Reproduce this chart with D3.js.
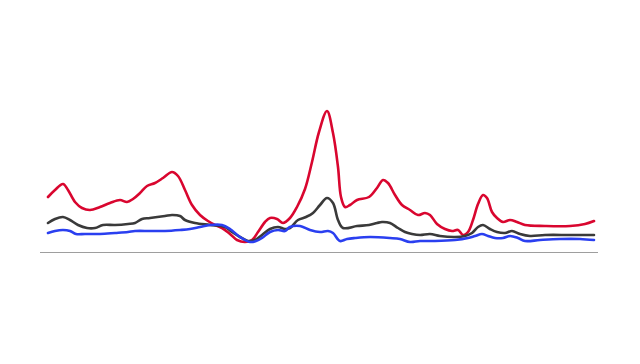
<!DOCTYPE html>
<html>
<head>
<meta charset="utf-8">
<script src="https://cdn.jsdelivr.net/npm/d3@7"></script>
<style>
  body { margin: 0; background: #fff; }
</style>
</head>
<body>
<div class="container"></div>
<script>
const w = 640;
const h = 364;

// day offsets and values
const redDays = [0, 7, 15, 20, 27, 34, 42, 52, 62, 72, 79, 85, 92, 99, 107, 115, 124, 130, 137, 144, 152, 160, 167, 174, 182, 189, 197, 204, 210, 217, 222, 229, 235, 242, 249, 257, 264, 271, 279, 285, 290, 293, 297, 302, 309, 321, 329, 335, 340, 347, 354, 362, 370, 377, 382, 389, 397, 404, 410, 415, 420, 425, 430, 435, 439, 444, 449, 455, 462, 469, 477, 497, 522, 537, 546];
const redValues = [55, 62, 68, 62, 50, 44, 42, 45, 49, 52, 50, 53, 59, 66, 69, 74, 80, 76, 62, 47, 37, 31, 27, 24, 18, 12, 10, 12, 20, 30, 34, 33, 29, 34, 45, 63, 90, 120, 141, 119, 85, 55, 45, 47, 52, 55, 64, 72, 69, 57, 47, 42, 37, 39, 37, 28, 23, 21, 22, 17, 20, 32, 48, 57, 54, 40, 34, 30, 32, 30, 27, 26, 26, 28, 31];

const grayDays = [0, 7, 15, 22, 30, 39, 47, 55, 67, 80, 87, 94, 102, 117, 124, 132, 137, 147, 162, 177, 184, 192, 200, 207, 214, 222, 230, 237, 242, 250, 258, 265, 272, 279, 285, 290, 295, 309, 321, 329, 334, 342, 350, 357, 364, 372, 382, 392, 407, 417, 424, 430, 435, 442, 449, 457, 464, 472, 482, 497, 522, 546];
const grayValues = [29, 33, 35, 32, 27, 24, 24, 27, 27, 28, 29, 33, 34, 36, 37, 36, 32, 29, 27, 25, 20, 15, 11, 12, 17, 23, 25, 23, 24, 32, 35, 39, 47, 54, 49, 32, 24, 26, 27, 29, 30, 29, 24, 20, 18, 17, 18, 16, 15, 16, 19, 25, 27, 23, 20, 19, 21, 18, 16, 17, 17, 17];

const blueDays = [0, 7, 15, 22, 28, 37, 52, 67, 80, 87, 102, 117, 132, 142, 152, 162, 174, 182, 192, 202, 208, 214, 222, 230, 237, 242, 252, 262, 272, 280, 285, 292, 299, 307, 322, 342, 352, 362, 372, 387, 407, 420, 427, 434, 440, 447, 455, 462, 470, 477, 492, 512, 532, 546];
const blueValues = [19, 21, 22, 21, 18, 18, 18, 19, 20, 21, 21, 21, 22, 23, 25, 27, 27, 23, 15, 10, 11, 14, 20, 22, 21, 25, 26, 22, 20, 21, 19, 11, 13, 14, 15, 14, 13, 10, 11, 11, 12, 14, 16, 18, 16, 14, 14, 16, 14, 11, 12, 13, 13, 12];

const series = [
    { name: 'red', days: redDays, values: redValues, color: '#d9062f' },
    { name: 'gray', days: grayDays, values: grayValues, color: '#3a3a3a' },
    { name: 'blue', days: blueDays, values: blueValues, color: '#2a3ff0' }
];

const margin = { top: 52, right: 42, bottom: 112, left: 40 };

const svg = d3.select('.container')
    .append('svg')
    .attr('width', w)
    .attr('height', h)
    .attr('viewBox', [0, 0, w, h]);

const x = d3.scaleLinear()
    .domain([0, 546])
    .range([48, 594]);

const y = d3.scaleLinear()
    .domain([0, 200])
    .range([h - margin.bottom, margin.top]);

// baseline
svg.append('line')
    .attr('x1', margin.left)
    .attr('x2', w - margin.right)
    .attr('y1', y(0) + 0.5)
    .attr('y2', y(0) + 0.5)
    .attr('stroke', '#9e9e9e')
    .attr('stroke-width', 1);

const line = d3.line()
    .x(d => x(d[0]))
    .y(d => y(d[1]))
    .curve(d3.curveCatmullRom.alpha(0.5));

svg.append('g')
    .selectAll('path')
    .data(series)
    .join('path')
    .attr('fill', 'none')
    .attr('stroke', d => d.color)
    .attr('stroke-width', 2.6)
    .attr('stroke-linejoin', 'round')
    .attr('stroke-linecap', 'round')
    .attr('d', d => line(d.days.map((t, i) => [t, d.values[i]])));
</script>
</body>
</html>
